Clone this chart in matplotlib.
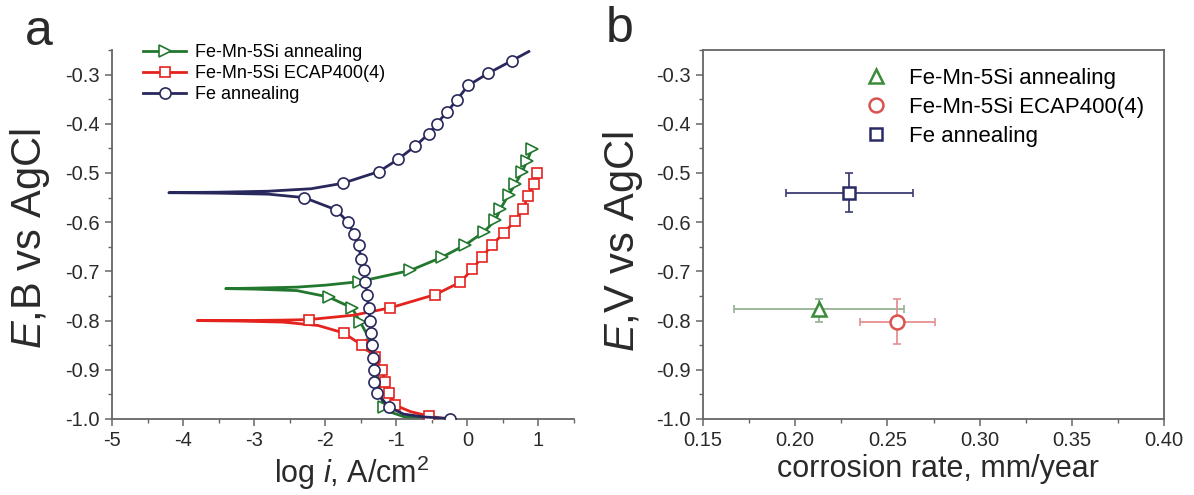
import matplotlib
matplotlib.use("Agg")
import matplotlib.pyplot as plt
from matplotlib.ticker import MultipleLocator, FormatStrFormatter

plt.rcParams["font.family"] = ["Liberation Sans", "DejaVu Sans"]
plt.rcParams["mathtext.fontset"] = "custom"
plt.rcParams["mathtext.rm"] = "Liberation Sans"
plt.rcParams["mathtext.it"] = "Liberation Sans:italic"
plt.rcParams["axes.unicode_minus"] = False

# ---- panel a: polarization curves (log i, E); flag 1 = marker drawn ----
femn_x = [-0.6, -0.9, -1.1, -1.18, -1.22, -1.28, -1.34, -1.42, -1.507, -1.624, -1.953, -2.4, -3.0, -3.4,
          -3.0, -2.4, -2.0, -1.53, -0.803, -0.356, -0.028, 0.23, 0.394, 0.465, 0.582, 0.676, 0.77, 0.84, 0.91]
femn_y = [-1.0, -0.995, -0.985, -0.975, -0.95, -0.9, -0.85, -0.826, -0.803, -0.774, -0.752, -0.739, -0.736, -0.735,
          -0.734, -0.732, -0.728, -0.721, -0.698, -0.671, -0.646, -0.62, -0.596, -0.573, -0.544, -0.522, -0.498, -0.475, -0.451]
femn_mk = [0, 0, 0, 1, 0, 0, 1, 0, 1, 1, 1, 0, 0, 0,
           0, 0, 0, 1, 1, 1, 1, 1, 1, 1, 1, 1, 1, 1, 1]

ecap_x = [-0.3, -0.545, -0.8, -1.014, -1.108, -1.155, -1.202, -1.296, -1.483, -1.742, -2.1, -2.6, -3.2, -3.8,
          -3.2, -2.6, -2.235, -1.6, -1.085, -0.45, -0.10, 0.066, 0.207, 0.348, 0.512, 0.667, 0.785, 0.85, 0.934, 0.98]
ecap_y = [-1.0, -0.994, -0.985, -0.972, -0.948, -0.924, -0.90, -0.874, -0.85, -0.825, -0.81, -0.803, -0.801, -0.80,
          -0.800, -0.799, -0.798, -0.789, -0.774, -0.747, -0.722, -0.696, -0.671, -0.646, -0.622, -0.598, -0.573, -0.547, -0.522, -0.50]
ecap_mk = [0, 1, 0, 1, 1, 1, 1, 1, 1, 1, 0, 0, 0, 0,
           0, 0, 1, 0, 1, 1, 1, 1, 1, 1, 1, 1, 1, 1, 1, 1]

fe_x = [-0.24, -0.6, -0.9, -1.108, -1.27, -1.31, -1.32, -1.328, -1.342, -1.356, -1.366, -1.39, -1.413, -1.437,
        -1.46, -1.497, -1.53, -1.60, -1.68, -1.845, -2.297, -2.8, -3.5, -4.2,
        -3.5, -2.8, -2.2, -1.757, -1.243, -0.973, -0.741, -0.54, -0.432, -0.281, -0.151, 0.011, 0.297, 0.622, 0.865]
fe_y = [-0.999, -0.996, -0.990, -0.975, -0.948, -0.924, -0.90, -0.877, -0.85, -0.826, -0.80, -0.775, -0.748, -0.721,
        -0.698, -0.674, -0.647, -0.623, -0.600, -0.575, -0.55, -0.543, -0.541, -0.540,
        -0.539, -0.537, -0.532, -0.521, -0.497, -0.472, -0.446, -0.420, -0.400, -0.375, -0.352, -0.322, -0.297, -0.272, -0.253]
fe_mk = [1, 0, 0, 1, 1, 1, 1, 1, 1, 1, 1, 1, 1, 1,
         1, 1, 1, 1, 1, 1, 1, 0, 0, 0,
         0, 0, 0, 1, 1, 1, 1, 1, 1, 1, 1, 1, 1, 1, 0]

labels = ["Fe-Mn-5Si annealing", "Fe-Mn-5Si ECAP400(4)", "Fe annealing"]

# ---- panel b: corrosion potential vs corrosion rate ----
rate = [0.213, 0.255, 0.229]
rate_lo = [0.167, 0.235, 0.195]
rate_hi = [0.259, 0.276, 0.264]
pot = [-0.777, -0.803, -0.540]
pot_lo = [-0.802, -0.847, -0.579]
pot_hi = [-0.756, -0.757, -0.500]

LINE_COLORS = ["#22772f", "#e5231e", "#28285c"]
PT_COLORS = ["#3a8a3a", "#d9534f", "#2a2a66"]
ERR_COLORS = ["#93b393", "#e59090", "#3c3c72"]
AX_COLOR = "#666666"
TXT_COLOR = "#2a2a2a"

fig = plt.figure(figsize=(11.94, 4.95), dpi=100)
W, H = 1194.0, 495.0
ax_a = fig.add_axes([112 / W, 1 - 419 / H, (574 - 112) / W, (419 - 50) / H])
ax_b = fig.add_axes([703 / W, 1 - 419 / H, (1164 - 703) / W, (419 - 50) / H])

series = [(femn_x, femn_y, femn_mk, ">"), (ecap_x, ecap_y, ecap_mk, "s"), (fe_x, fe_y, fe_mk, "o")]
handles = []
for i, (xs, ys, mk, marker) in enumerate(series):
    idx = [k for k, m in enumerate(mk) if m]
    (h,) = ax_a.plot(xs, ys, color=LINE_COLORS[i], linewidth=2.0, marker=marker, markevery=idx,
                     markersize=8 if marker != "s" else 7, markerfacecolor="white",
                     markeredgecolor=LINE_COLORS[i], markeredgewidth=1.2, zorder=2 + i, label=labels[i])
    handles.append(h)

ax_a.set_xlim(-5, 1.5)
ax_a.set_ylim(-1.0, -0.25)
ax_a.xaxis.set_major_locator(MultipleLocator(1))
ax_a.xaxis.set_minor_locator(MultipleLocator(0.5))
ax_a.yaxis.set_major_locator(MultipleLocator(0.1))
ax_a.yaxis.set_minor_locator(MultipleLocator(0.05))
ax_a.yaxis.set_major_formatter(FormatStrFormatter("%.1f"))
ax_a.xaxis.set_major_formatter(FormatStrFormatter("%d"))
for s in ["top", "right"]:
    ax_a.spines[s].set_visible(False)
ax_a.set_xlabel(r"log $i$, A/cm$^2$", fontsize=22, color=TXT_COLOR)
ax_a.set_ylabel(r"$E$,B vs AgCl", fontsize=30, color=TXT_COLOR)
ax_a.xaxis.set_label_coords(0.52, -0.095)
ax_a.yaxis.set_label_coords(-0.13, 0.49)
ax_a.legend(handles=handles, loc="center left", bbox_to_anchor=(143 / W, 1 - 73.5 / H),
            bbox_transform=fig.transFigure, frameon=False, fontsize=13, numpoints=1,
            handlelength=2.4, handletextpad=0.5, labelspacing=0.22, borderpad=0, borderaxespad=0)

pt_markers = ["^", "o", "s"]
for i in range(3):
    ax_b.errorbar([rate[i]], [pot[i]],
                  xerr=[[rate[i] - rate_lo[i]], [rate_hi[i] - rate[i]]],
                  yerr=[[pot[i] - pot_lo[i]], [pot_hi[i] - pot[i]]],
                  fmt="none", ecolor=ERR_COLORS[i], elinewidth=1.3, capsize=3, capthick=1.2, zorder=2)
    ax_b.plot([rate[i]], [pot[i]], linestyle="none", marker=pt_markers[i], markersize=10 if i != 2 else 9,
              markerfacecolor="white", markeredgecolor=PT_COLORS[i], markeredgewidth=1.8, zorder=3,
              label=labels[i])
ax_b.set_xlim(0.15, 0.40)
ax_b.set_ylim(-1.0, -0.25)
ax_b.xaxis.set_major_locator(MultipleLocator(0.05))
ax_b.xaxis.set_minor_locator(MultipleLocator(0.025))
ax_b.yaxis.set_major_locator(MultipleLocator(0.1))
ax_b.yaxis.set_minor_locator(MultipleLocator(0.05))
ax_b.xaxis.set_major_formatter(FormatStrFormatter("%.2f"))
ax_b.yaxis.set_major_formatter(FormatStrFormatter("%.1f"))
ax_b.set_xlabel("corrosion rate, mm/year", fontsize=22, color=TXT_COLOR)
ax_b.set_ylabel(r"$E$,V vs AgCl", fontsize=30, color=TXT_COLOR)
ax_b.xaxis.set_label_coords(0.51, -0.095)
ax_b.yaxis.set_label_coords(-0.125, 0.48)
ax_b.legend(loc="center left", bbox_to_anchor=(865 / W, 1 - 107.5 / H), bbox_transform=fig.transFigure,
            frameon=False, fontsize=16, numpoints=1, handlelength=1.0, handletextpad=1.0,
            labelspacing=0.35, borderpad=0, borderaxespad=0)

for ax in (ax_a, ax_b):
    for s in ax.spines.values():
        s.set_color(AX_COLOR)
        s.set_linewidth(1.3)
    ax.tick_params(which="major", direction="out", length=5, width=1.1, color=AX_COLOR,
                   labelsize=14.5, labelcolor=TXT_COLOR, pad=4)
    ax.tick_params(which="minor", direction="out", length=3, width=1.0, color=AX_COLOR)
    ax.tick_params(top=False, right=False, which="both")

fig.text(25 / W, 1 - 45 / H, "a", fontsize=36, color=TXT_COLOR, ha="left", va="baseline")
fig.text(606 / W, 1 - 42 / H, "b", fontsize=36, color=TXT_COLOR, ha="left", va="baseline")

fig.savefig("out.png", dpi=100)
